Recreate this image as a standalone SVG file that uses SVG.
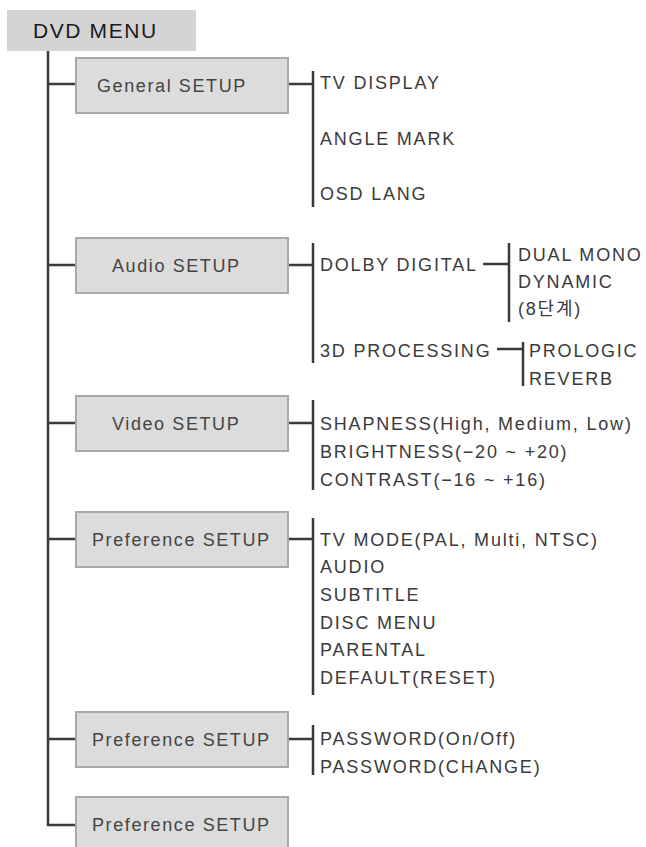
<svg xmlns="http://www.w3.org/2000/svg" width="646" height="847" viewBox="0 0 646 847">
<style>
.box{fill:#dcdcdc;stroke:#a9a9a9;stroke-width:2}
.lbl{font-family:"Liberation Sans","Noto Sans CJK KR",sans-serif;font-size:18px;letter-spacing:1.6px;fill:#444}
.it{font-family:"Liberation Sans","Noto Sans CJK KR",sans-serif;font-size:18px;letter-spacing:1.8px;fill:#3a3a3a}
.ln{stroke:#3a3a3a;stroke-width:2.5;fill:none}
</style>
<rect width="646" height="847" fill="#fff"/>
<g id="root">
<rect x="7" y="10" width="189" height="41" fill="#d4d4d4"/>
<text x="33" y="38" font-family="Liberation Sans, sans-serif" font-size="21" letter-spacing="1.6" fill="#1a1a1a">DVD MENU</text>
</g>
<g id="connectors" class="ln">
<path d="M48 51 V825 H76"/>
<path d="M48 84 H76 M48 265 H76 M48 423 H76 M48 539 H76 M48 739 H76"/>
<path d="M288 84 H313 M313 71 V207"/>
<path d="M288 265 H313 M313 243 V363"/>
<path d="M483 264 H509 M509 243 V322"/>
<path d="M497 349 H523 M523 342 V386"/>
<path d="M288 423 H313 M313 400 V490"/>
<path d="M288 539 H313 M313 518 V695"/>
<path d="M288 739 H313 M313 725 V775"/>
</g>
<g id="general">
<rect class="box" x="76" y="58" width="212" height="55"/>
<text class="lbl" x="97" y="92">General SETUP</text>
<text class="it" x="320" y="89">TV DISPLAY</text>
<text class="it" x="320" y="145">ANGLE MARK</text>
<text class="it" x="320" y="200">OSD LANG</text>
</g>
<g id="audio">
<rect class="box" x="76" y="238" width="212" height="55"/>
<text class="lbl" x="112" y="272">Audio SETUP</text>
<text class="it" x="320" y="271">DOLBY DIGITAL</text>
<text class="it" x="518" y="261">DUAL MONO</text>
<text class="it" x="518" y="288">DYNAMIC</text>
<text class="it" x="518" y="315">(8단계)</text>
<text class="it" x="320" y="357">3D PROCESSING</text>
<text class="it" x="529" y="357">PROLOGIC</text>
<text class="it" x="529" y="385">REVERB</text>
</g>
<g id="video">
<rect class="box" x="76" y="396" width="212" height="55"/>
<text class="lbl" x="112" y="430">Video SETUP</text>
<text class="it" x="320" y="430">SHAPNESS(High, Medium, Low)</text>
<text class="it" x="320" y="458">BRIGHTNESS(−20 ~ +20)</text>
<text class="it" x="320" y="486">CONTRAST(−16 ~ +16)</text>
</g>
<g id="preference1">
<rect class="box" x="76" y="512" width="212" height="55"/>
<text class="lbl" x="92" y="546">Preference SETUP</text>
<text class="it" x="320" y="546">TV MODE(PAL, Multi, NTSC)</text>
<text class="it" x="320" y="573">AUDIO</text>
<text class="it" x="320" y="601">SUBTITLE</text>
<text class="it" x="320" y="629">DISC MENU</text>
<text class="it" x="320" y="656">PARENTAL</text>
<text class="it" x="320" y="684">DEFAULT(RESET)</text>
</g>
<g id="preference2">
<rect class="box" x="76" y="712" width="212" height="55"/>
<text class="lbl" x="92" y="746">Preference SETUP</text>
<text class="it" x="320" y="745">PASSWORD(On/Off)</text>
<text class="it" x="320" y="773">PASSWORD(CHANGE)</text>
</g>
<g id="preference3">
<rect class="box" x="76" y="797" width="212" height="55"/>
<text class="lbl" x="92" y="831">Preference SETUP</text>
</g>
</svg>
